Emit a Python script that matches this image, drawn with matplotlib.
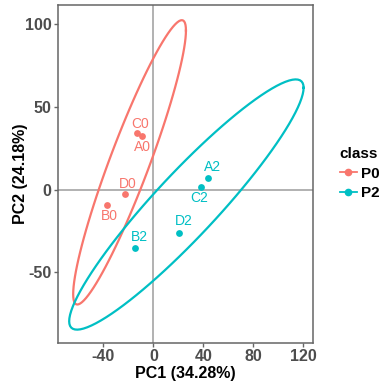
import numpy as np
import matplotlib
matplotlib.use("Agg")
import matplotlib.pyplot as plt
from matplotlib.lines import Line2D

plt.rcParams['font.family'] = ['Liberation Sans', 'DejaVu Sans']

# PCA scores
samples_p0 = ["A0", "B0", "C0", "D0"]
pc1_p0 = [-9.4, -36.8, -13.0, -23.1]
pc2_p0 = [32.3, -9.5, 34.5, -3.0]

samples_p2 = ["A2", "B2", "C2", "D2"]
pc1_p2 = [43.7, -14.8, 38.1, 20.7]
pc2_p2 = [7.0, -35.4, 1.6, -26.1]

classes = ["P0", "P2"]
colors = {"P0": "#F8766D", "P2": "#00BFC4"}

x_ticks = [-40, 0, 40, 80, 120]
y_ticks = [-50, 0, 50, 100]

# label offsets in pixels (dx, dy), layout only
label_offsets = {
    "A0": (1, -11), "B0": (2, -11), "C0": (3, 9), "D0": (3, 10),
    "A2": (5, 11), "B2": (5, 11), "C2": (-2, -11), "D2": (5, 12),
}


def cov_trob(x, nu=5, maxit=25, tol=0.01):
    # same iteration as MASS::cov.trob, used by ggplot's stat_ellipse
    n, p = x.shape
    loc = x.mean(axis=0)
    w = np.ones(n)
    for _ in range(maxit):
        w0 = w
        X = x - loc
        _, d, vt = np.linalg.svd(np.sqrt(w / w.sum())[:, None] * X, full_matrices=False)
        wX = X @ vt.T @ np.diag(1 / d)
        Q = (wX ** 2).sum(axis=1)
        w = (nu + p) / (nu + Q)
        loc = (w[:, None] * x).sum(axis=0) / w.sum()
        if np.all(np.abs(w - w0) < tol):
            break
    X = x - loc
    cov = (np.sqrt(w)[:, None] * X).T @ (np.sqrt(w)[:, None] * X) / n
    return loc, cov


def ellipse_path(xs, ys, f_crit=9.5521):
    # f_crit = qf(0.95, 2, 3)
    pts = np.column_stack([xs, ys])
    center, cov = cov_trob(pts)
    chol = np.linalg.cholesky(cov).T
    radius = np.sqrt(2 * f_crit)
    t = np.linspace(0, 2 * np.pi, 101)
    circ = np.column_stack([np.cos(t), np.sin(t)])
    e = center + radius * (circ @ chol)
    return e[:, 0], e[:, 1]


fig = plt.figure(figsize=(3.81, 3.86), dpi=100)
ax = fig.add_axes([0.152, 0.111, 0.67, 0.876])

ax.axvline(0, color="#ABABAB", lw=1.3, zorder=1)
ax.axhline(0, color="#ABABAB", lw=1.3, zorder=1)

groups = [("P0", samples_p0, pc1_p0, pc2_p0), ("P2", samples_p2, pc1_p2, pc2_p2)]
for cls, names, xs, ys in groups:
    c = colors[cls]
    ex, ey = ellipse_path(xs, ys)
    ax.plot(ex, ey, color=c, lw=1.6, zorder=2)
    ax.scatter(xs, ys, s=24, color=c, zorder=3, linewidths=0)
    for name, x, y in zip(names, xs, ys):
        dx, dy = label_offsets[name]
        ax.annotate(name, (x, y), xytext=(dx * 0.72, dy * 0.72), textcoords="offset points",
                    ha="center", va="center", color=c, fontsize=10)

ax.set_xlim(-76.5, 128)
ax.set_ylim(-93, 111.7)
ax.set_xticks(x_ticks)
ax.set_yticks(y_ticks)
ax.set_xticklabels([str(v) for v in x_ticks])
ax.set_yticklabels([str(v) for v in y_ticks])
ax.tick_params(colors="#666666", length=3, width=1, labelcolor="#4D4D4D", labelsize=11.5, pad=1.5)
for lab in ax.get_xticklabels() + ax.get_yticklabels():
    lab.set_fontweight("bold")
for sp in ax.spines.values():
    sp.set_color("#666666")
    sp.set_linewidth(1.1)

ax.set_xlabel("PC1 (34.28%)", fontsize=11.5, fontweight="bold", labelpad=1)
ax.set_ylabel("PC2 (24.18%)", fontsize=11.5, fontweight="bold")
ax.yaxis.set_label_coords(-0.118, 0.5)

handles = [Line2D([0], [0], color=colors[c], marker="o", markersize=4.5, lw=1.3) for c in classes]
leg = fig.legend(handles, classes, title="class", loc="center left",
                 bbox_to_anchor=(0.872, 0.55), frameon=False, handlelength=1.1,
                 handletextpad=0.3, labelspacing=0.35, borderpad=0,
                 prop={"weight": "bold", "size": 11})
leg.get_title().set_fontweight("bold")
leg.get_title().set_fontsize(11)
leg._legend_box.align = "left"

fig.savefig("out.png", dpi=100)
